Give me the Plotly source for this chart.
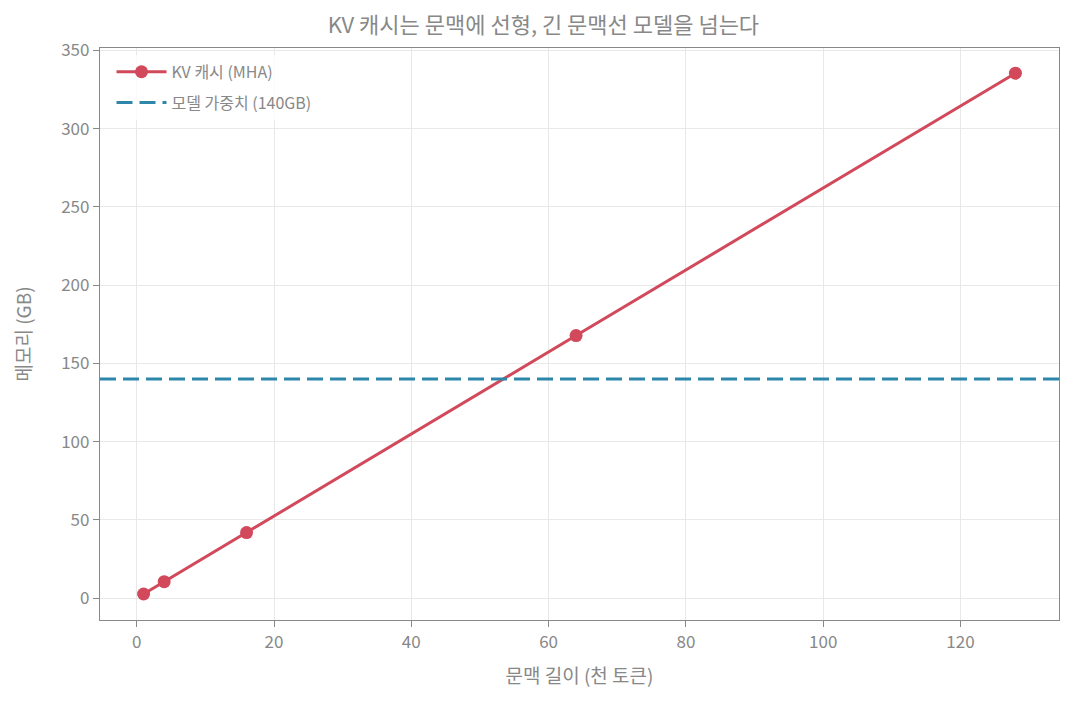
import plotly.graph_objects as go

# 문맥 길이 (천 토큰) vs KV 캐시 메모리 (GB)
context_k = [1, 4, 16, 64, 128]
kv_cache_gb = [2.62, 10.5, 41.9, 167.8, 335.5]
weights_gb = 140

x_ticks = [0, 20, 40, 60, 80, 100, 120]
y_ticks = [0, 50, 100, 150, 200, 250, 300, 350]

RED = "#d1495b"
BLUE = "#2e86ab"
GRAY = "#888888"
FONT = "Noto Sans CJK KR"

fig = go.Figure()

fig.add_trace(go.Scatter(
    x=context_k, y=kv_cache_gb, mode="lines+markers", name="KV 캐시 (MHA)",
    line=dict(color=RED, width=3), marker=dict(color=RED, size=13),
    legendgroup="kv",
))

x_lo, x_hi = -5.35, 134.35
fig.add_trace(go.Scatter(
    x=[x_lo, x_hi], y=[weights_gb, weights_gb], mode="lines", name="모델 가중치 (140GB)",
    line=dict(color=BLUE, width=3, dash="16px,7px"),
    legendgroup="weights",
))

axis_common = dict(
    showline=True, linecolor=GRAY, linewidth=1.3, mirror=True,
    showgrid=True, gridcolor="#e8e8e8", gridwidth=1,
    ticks="outside", tickcolor=GRAY, ticklen=6,
    tickfont=dict(size=17, color=GRAY, family=FONT),
    zeroline=False, automargin=False,
)

fig.update_xaxes(
    range=[x_lo, x_hi], tickvals=x_ticks,
    title=dict(text="문맥 길이 (천 토큰)", font=dict(size=19, color=GRAY, family=FONT), standoff=18),
    **axis_common,
)
fig.update_yaxes(
    range=[-14, 351.6], tickvals=y_ticks,
    title=dict(text="메모리 (GB)", font=dict(size=19, color=GRAY, family=FONT), standoff=24),
    **axis_common,
)

# page body adds an 8px offset, so margins are shifted to land the plot area where the reference has it
fig.update_layout(
    width=1074, height=706,
    paper_bgcolor="white", plot_bgcolor="white",
    font=dict(family=FONT, color=GRAY),
    title=dict(text="KV 캐시는 문맥에 선형, 긴 문맥선 모델을 넘는다", x=0.4985, xanchor="center",
               y=0.976, yanchor="middle", font=dict(size=22, color=GRAY, family=FONT)),
    margin=dict(l=92, r=23, t=40, b=94, autoexpand=False),
    legend=dict(x=0.012, y=0.988, xanchor="left", yanchor="top", bgcolor="rgba(255,255,255,0.8)",
                font=dict(size=16, color=GRAY, family=FONT), itemwidth=50,
                traceorder="grouped", tracegroupgap=7),
    showlegend=True,
)

fig.write_html("out.html")
